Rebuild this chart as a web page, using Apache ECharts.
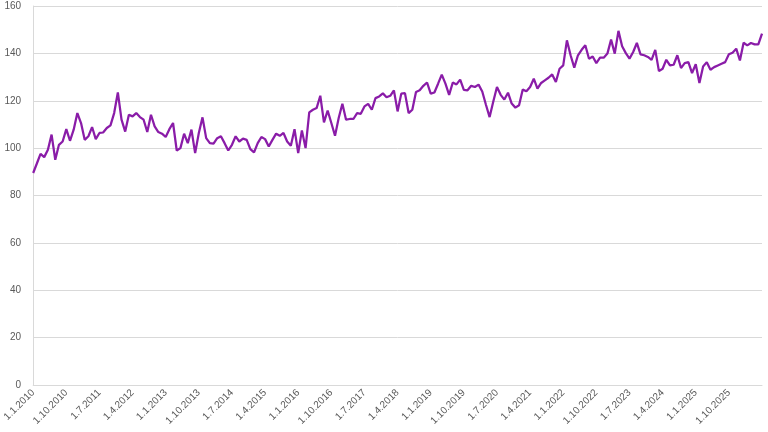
<!DOCTYPE html>
<html>
<head>
<meta charset="utf-8">
<script src="https://cdn.jsdelivr.net/npm/echarts@6/dist/echarts.min.js"></script>
<style>
html,body{margin:0;padding:0;background:#fff;}
#c{width:768px;height:432px;}
</style>
</head>
<body>
<div id="c"></div>
<script>
// Monthly series, starting January 2010
const startYear = 2010;
const values = [
  89.5, 93.5, 97.6, 96.2, 99.3, 105.7, 95.1, 101.4, 102.8, 108.0, 103.1, 107.8,
  114.8, 110.6, 103.5, 105.0, 108.9, 103.8, 106.4, 106.6, 108.5, 109.6, 114.8, 123.5,
  112.0, 107.0, 114.1, 113.4, 114.8, 113.1, 112.0, 106.8, 114.1, 109.2, 106.8, 106.1,
  104.7, 108.0, 110.6, 99.0, 100.0, 106.1, 102.1, 107.8, 97.9, 106.4, 113.0, 104.2,
  102.1, 101.9, 104.2, 105.0, 102.1, 99.0, 101.4, 105.0, 102.8, 104.0, 103.5, 99.6,
  98.2, 102.1, 104.7, 103.8, 100.7, 103.5, 106.1, 105.2, 106.4, 102.8, 101.0, 108.0,
  97.9, 107.5, 100.0, 115.1, 116.2, 116.9, 122.1, 110.9, 115.9, 110.6, 105.2, 112.7,
  118.7, 112.0, 112.3, 112.3, 114.8, 114.5, 117.6, 118.7, 116.2, 121.1, 121.8, 123.1,
  121.5, 122.1, 124.4, 115.5, 123.0, 123.2, 114.8, 116.2, 123.7, 124.4, 126.3, 127.7,
  123.0, 123.5, 127.2, 131.0, 127.2, 122.5, 127.7, 126.9, 128.9, 124.6, 124.4, 126.3,
  125.8, 126.8, 123.9, 118.3, 113.1, 119.7, 125.8, 122.5, 120.5, 123.4, 118.8, 117.1,
  118.1, 124.7, 124.0, 125.8, 129.3, 125.1, 127.5, 128.6, 129.7, 131.1, 127.9, 133.5,
  134.9, 145.5, 139.2, 134.0, 139.2, 141.5, 143.4, 137.7, 138.7, 135.9, 138.2, 138.2,
  139.9, 145.8, 139.9, 149.5, 143.0, 140.1, 137.8, 140.6, 144.4, 139.6, 139.2, 138.5,
  137.3, 141.5, 132.5, 133.5, 137.3, 134.9, 135.2, 139.2, 133.8, 135.9, 136.3, 131.7,
  135.4, 127.5, 134.5, 136.3, 133.1, 134.2, 134.9, 135.6, 136.3, 139.6, 140.3, 142.0,
  137.0, 144.5, 143.4, 144.4, 143.8, 143.8, 148.3
];
const categories = [];
for (let i = 0; i < values.length; i++) {
  const y = startYear + Math.floor(i / 12);
  const m = (i % 12) + 1;
  categories.push('1.' + m + '.' + y);
}
// x tick labels shown on the axis
const xTickLabels = [
  '1.1.2010', '1.10.2010', '1.7.2011', '1.4.2012', '1.1.2013', '1.10.2013',
  '1.7.2014', '1.4.2015', '1.1.2016', '1.10.2016', '1.7.2017', '1.4.2018',
  '1.1.2019', '1.10.2019', '1.7.2020', '1.4.2021', '1.1.2022', '1.10.2022',
  '1.7.2023', '1.4.2024', '1.1.2025', '1.10.2025'
];
const yTicks = [0, 20, 40, 60, 80, 100, 120, 140, 160];

const chart = echarts.init(document.getElementById('c'), null, {renderer: 'canvas'});
chart.setOption({
  animation: false,
  backgroundColor: '#ffffff',
  grid: {left: 32, right: 6, top: 6, bottom: 47, containLabel: false},
  xAxis: {
    type: 'category',
    data: categories,
    boundaryGap: false,
    axisLine: {show: true, lineStyle: {color: '#d9d9d9', width: 1}},
    axisTick: {show: false},
    axisLabel: {
      interval: function (idx, val) { return xTickLabels.indexOf(val) !== -1; },
      rotate: 45,
      color: '#595959',
      fontFamily: 'Liberation Sans, Arial, sans-serif',
      fontSize: 10,
      margin: 6
    },
    splitLine: {show: false}
  },
  yAxis: {
    type: 'value',
    min: yTicks[0],
    max: yTicks[yTicks.length - 1],
    interval: 20,
    axisLine: {show: true, lineStyle: {color: '#d9d9d9', width: 1}},
    axisTick: {show: false},
    axisLabel: {
      color: '#595959',
      fontFamily: 'Liberation Sans, Arial, sans-serif',
      fontSize: 10,
      margin: 12
    },
    splitLine: {show: true, lineStyle: {color: '#d9d9d9', width: 1}}
  },
  series: [{
    type: 'line',
    data: values,
    showSymbol: false,
    symbol: 'none',
    lineStyle: {color: '#8a1ca8', width: 2.25},
    itemStyle: {color: '#8a1ca8'}
  }]
});
</script>
</body>
</html>
